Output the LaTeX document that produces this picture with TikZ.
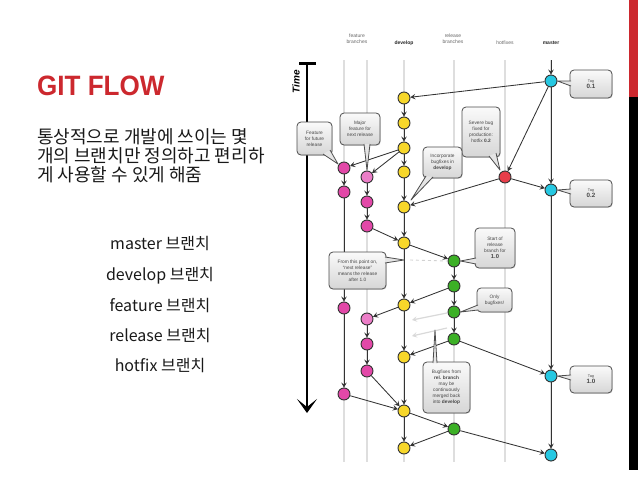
\documentclass[tikz,border=0pt]{standalone}
\usepackage{fontspec}
\setmainfont{Liberation Sans}
\newfontfamily\kr{Noto Sans CJK KR}
\usetikzlibrary{arrows.meta,calc,shadows}
\definecolor{gfred}{RGB}{204,40,46}
\definecolor{ydev}{RGB}{247,215,42}
\definecolor{mfeat}{RGB}{226,72,168}
\definecolor{mfeatl}{RGB}{236,126,200}
\definecolor{grel}{RGB}{60,176,38}
\definecolor{cmas}{RGB}{38,200,226}
\definecolor{rhot}{RGB}{232,62,74}
\newcommand\ctail[3]{\fill[tailfill] #1 -- #3 -- #2 -- cycle; \draw[tailline] #1 -- #3 -- #2;}
\tikzset{
  lane/.style={draw=gray!26, line width=1.6pt},
  edge/.style={draw=black!80, line width=0.85pt, -{Stealth[length=5pt,width=5.5pt,inset=2pt]}},
  faint/.style={draw=gray!30, line width=1.2pt, -{Stealth[length=5pt,width=5.5pt,inset=2pt]}},
  dot/.style={circle, draw=black!80, line width=0.9pt, minimum size=12pt, inner sep=0pt},
  dev/.style={dot, fill=ydev},
  feat/.style={dot, fill=mfeat},
  featl/.style={dot, fill=mfeatl},
  rel/.style={dot, fill=grel},
  mas/.style={dot, fill=cmas},
  hot/.style={dot, fill=rhot},
  callout/.style={draw=black!70, line width=0.8pt, rounded corners=4pt,
    top color=gray!4, bottom color=gray!32, align=center, inner sep=1pt,
    font=\fontsize{4.8}{6.1}\selectfont, text=black!72,
    drop shadow={opacity=0.25, shadow xshift=0.8pt, shadow yshift=-0.8pt}},
  tailfill/.style={fill=gray!20},
  tailline/.style={draw=black!70, line width=0.8pt, line join=round},
  head/.style={font=\fontsize{5}{6}\selectfont, text=black!60, align=center},
  listitem/.style={anchor=base, font=\kr\fontsize{16}{18}\selectfont, text=black!90, inner sep=0pt},
  para/.style={anchor=base west, font=\kr\fontsize{18}{19}\selectfont, text=black!90, inner sep=0pt}
}
\begin{document}
\begin{tikzpicture}[x=1pt,y=-1pt]
\useasboundingbox (0,0) rectangle (638,479);
% right bars
\fill[gfred] (629,0) rectangle (638,97);
\fill[black] (629,97) rectangle (638,470);
% left text
\node[anchor=base west, inner sep=0pt, text=gfred, font=\fontsize{28}{30}\selectfont\bfseries] (title) at (37,95) {\scalebox{0.93}[1]{GIT FLOW}};
\node[para] (p1) at (37,143.5) {통상적으로 개발에 쓰이는 몇};
\node[para] (p2) at (37,162.5) {개의 브랜치만 정의하고 편리하};
\node[para] (p3) at (37,181.5) {게 사용할 수 있게 해줌};
\node[listitem] (l1) at (160,249) {master 브랜치};
\node[listitem] (l2) at (160,280) {develop 브랜치};
\node[listitem] (l3) at (160,311) {feature 브랜치};
\node[listitem] (l4) at (160,341) {release 브랜치};
\node[listitem] (l5) at (160,371) {hotfix 브랜치};
% headers
\node[head] (hf) at (357,39) {feature\\branches};
\node[head, font=\fontsize{5}{6}\selectfont\bfseries, text=black!85] (hd) at (404,43) {develop};
\node[head] (hr) at (453,39) {release\\branches};
\node[head] (hh) at (505,43) {hotfixes};
\node[head, font=\fontsize{5}{6}\selectfont\bfseries, text=black!85] (hm) at (551,43) {master};
% lanes
\foreach \x in {344,367,404,454,505,551} \draw[lane] (\x,60) -- (\x,462);
% time axis
\coordinate (ttop) at (307,63);
\coordinate (tbot) at (307,413);
\draw[line width=3pt] (299,63) -- (316,63);
\draw[line width=1.8pt, -{Stealth[length=14pt,width=20pt,inset=8pt]}] (ttop) -- (tbot);
\node[rotate=90, font=\fontsize{10}{12}\selectfont\bfseries\itshape] (time) at (296,82) {Time};
% nodes
\node[mas] (M1) at (551,81) {};
\node[mas] (M2) at (551,190) {};
\node[mas] (M3) at (551,376) {};
\node[mas] (M4) at (551,455) {};
\node[hot] (H1) at (505,177) {};
\node[dev] (D1) at (404,98) {};
\node[dev] (D2) at (404,123) {};
\node[dev] (D3) at (404,148) {};
\node[dev] (D4) at (404,172) {};
\node[dev] (D5) at (404,207) {};
\node[dev] (D6) at (404,243) {};
\node[dev] (D7) at (404,305) {};
\node[dev] (D8) at (404,357) {};
\node[dev] (D9) at (404,411) {};
\node[dev] (D10) at (404,448) {};
\node[feat] (A1) at (344,168) {};
\node[feat] (A2) at (344,192) {};
\node[feat] (A3) at (344,308) {};
\node[feat] (A4) at (344,394) {};
\node[featl] (B1) at (367,177) {};
\node[feat] (B2) at (367,202) {};
\node[feat] (B3) at (367,226) {};
\node[featl] (B4) at (367,319) {};
\node[feat] (B5) at (367,344) {};
\node[feat] (B6) at (367,371) {};
\node[rel] (R1) at (454,261) {};
\node[rel] (R2) at (454,286) {};
\node[rel] (R3) at (454,312) {};
\node[rel] (R4) at (454,339) {};
\node[rel] (R5) at (454,429) {};
\coordinate (mt) at (551,60);
% edges
\draw[edge] (mt) -- (M1);
\draw[edge] (M1) -- (M2);
\draw[edge] (M2) -- (M3);
\draw[edge] (M3) -- (M4);
\draw[edge] (M1) -- (D1);
\draw[edge] (M1) -- (H1);
\draw[edge] (H1) -- (M2);
\draw[edge] (H1) -- (D5);
\foreach \a/\b in {D1/D2,D2/D3,D3/D4,D4/D5,D5/D6,D6/D7,D7/D8,D8/D9,D9/D10} \draw[edge] (\a) -- (\b);
\draw[edge] (D3) -- (A1);
\draw[edge] (D3) -- (B1);
\draw[edge] (A1) -- (A2);
\draw[edge] (A2) -- (A3);
\draw[edge] (A3) -- (A4);
\draw[edge] (A4) -- (D9);
\draw[edge] (B1) -- (B2);
\draw[edge] (B2) -- (B3);
\draw[edge] (B3) -- (D6);
\draw[edge] (D7) -- (B4);
\draw[edge] (B4) -- (B5);
\draw[edge] (B5) -- (B6);
\draw[edge] (B6) -- (D9);
\draw[edge] (D6) -- (R1);
\draw[edge] (R1) -- (R2);
\draw[edge] (R2) -- (R3);
\draw[edge] (R3) -- (R4);
\draw[edge] (R2) -- (D7);
\draw[edge] (R4) -- (D8);
\draw[edge] (R4) -- (M3);
\draw[edge] (D9) -- (R5);
\draw[edge] (R5) -- (D10);
\draw[edge] (R5) -- (M4);
% faint possible merges
\coordinate (g1s) at (447,313); \coordinate (g1e) at (412,320);
\coordinate (g2s) at (447,328); \coordinate (g2e) at (412,336);
\draw[faint] (g1s) -- (g1e);
\draw[faint] (g2s) -- (g2e);
\coordinate (dl) at (410,260);
\draw[gray!35, line width=0.9pt, dashed] (dl) -- (R1.west);
% callouts
\node[callout, minimum width=42pt, minimum height=28pt] (t01) at (591,84) {{\fontsize{3.8}{4.2}\selectfont Tag}\\[-0.5pt]{\fontsize{6.2}{7}\selectfont\bfseries 0.1}};
\ctail{(571,81)}{(571,86)}{(M1.east)}
\node[callout, minimum width=42pt, minimum height=27pt] (t02) at (591,193.5) {{\fontsize{3.8}{4.2}\selectfont Tag}\\[-0.5pt]{\fontsize{6.2}{7}\selectfont\bfseries 0.2}};
\ctail{(571,189)}{(571,194)}{(M2.east)}
\node[callout, minimum width=42pt, minimum height=27pt] (t10) at (591,379.5) {{\fontsize{3.8}{4.2}\selectfont Tag}\\[-0.5pt]{\fontsize{6.2}{7}\selectfont\bfseries 1.0}};
\ctail{(571,375)}{(571,380)}{(M3.east)}
\node[callout, minimum width=35pt, minimum height=33pt] (cff) at (314.5,138.5) {Feature\\for future\\release};
\ctail{(323,154)}{(330,150)}{(338,164)}
\node[callout, minimum width=40pt, minimum height=32pt] (cmf) at (360,129) {Major\\feature for\\next release};
\ctail{(364,144)}{(370,144)}{(367,170)}
\node[callout, minimum width=38pt, minimum height=50pt] (csb) at (481,132) {Severe bug\\fixed for\\production:\\hotfix \textbf{0.2}};
\ctail{(489,156)}{(496,153)}{(500,170)}
\node[callout, minimum width=39pt, minimum height=31pt] (cib) at (442.5,162.5) {Incorporate\\bugfixes in\\\textbf{develop}};
\ctail{(426,176)}{(433,177)}{(411,200)}
\node[callout, minimum width=57pt, minimum height=37pt] (cfp) at (357.5,270.5) {From this point on,\\``next release''\\means the release\\after 1.0};
\ctail{(385,257)}{(385,263)}{(404,260)}
\node[callout, minimum width=40pt, minimum height=40pt] (csr) at (495,248) {Start of\\release\\branch for\\{\fontsize{5.8}{6.5}\selectfont\bfseries 1.0}};
\ctail{(476,258)}{(476,264)}{(R1.east)}
\node[callout, minimum width=35pt, minimum height=24pt] (cob) at (494.5,300) {Only\\bugfixes!};
\ctail{(478,305)}{(478,310)}{(R3.east)}
\node[callout, minimum width=47pt, minimum height=51pt] (cbf) at (446.5,387.5) {Bugfixes from\\\textbf{rel. branch}\\may be\\continuously\\merged back\\into \textbf{develop}};
\coordinate (bfp) at (435,330);
\ctail{(433,363)}{(437,363)}{(bfp)}
\end{tikzpicture}
\end{document}
